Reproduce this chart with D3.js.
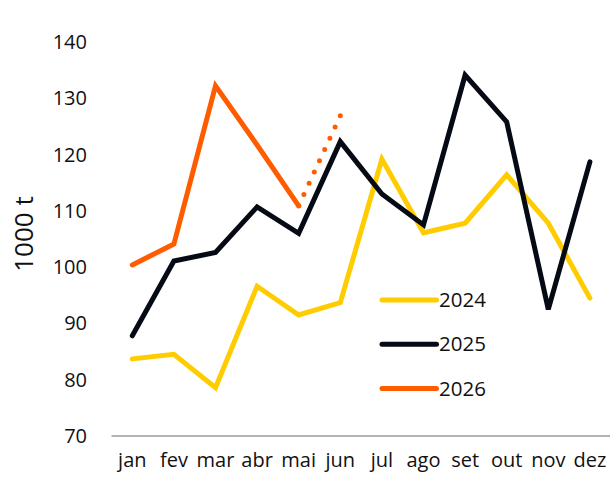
<!DOCTYPE html>
<html>
<head>
<meta charset="utf-8">
<script src="https://cdn.jsdelivr.net/npm/d3@7"></script>
<style>
  body { margin: 0; background: #fff; }
  text { font-family: "Open Sans", "Noto Sans", sans-serif; fill: #111; }
</style>
</head>
<body>
<div id="chart"></div>
<script>
const months = ['jan', 'fev', 'mar', 'abr', 'mai', 'jun', 'jul', 'ago', 'set', 'out', 'nov', 'dez'];
const yTicks = [70, 80, 90, 100, 110, 120, 130, 140];

const v2024 = [83.7, 84.5, 78.6, 96.6, 91.5, 93.7, 119.2, 106.1, 107.8, 116.4, 107.8, 94.5];
const v2025 = [87.8, 101.1, 102.6, 110.7, 106.0, 122.3, 113.0, 107.5, 134.1, 125.8, 92.5, 118.7];
const v2026 = [100.4, 104.1, 132.2, 121.7, 110.9];
// projection for jun, drawn dotted from mai
const proj2026 = [null, null, null, null, 110.9, 126.9];

const seriesNames = ['2024', '2025', '2026'];
const colors = ['#FFCC00', '#050A15', '#FF5C00'];

const width = 610, height = 482;

const svg = d3.select('#chart').append('svg')
    .attr('width', width)
    .attr('height', height);

const x = d3.scalePoint()
    .domain(months)
    .range([111.5, 610.7])
    .padding(0.5);

const y = d3.scaleLinear()
    .domain([70, 140])
    .range([436, 42]);

// y tick labels
svg.append('g')
    .selectAll('text')
    .data(yTicks)
    .enter()
    .append('text')
    .attr('x', 87)
    .attr('y', d => y(d))
    .attr('dy', '0.35em')
    .attr('text-anchor', 'end')
    .style('font-size', '20px')
    .text(d => d);

svg.append('text')
    .attr('transform', 'translate(33,234)rotate(-90)')
    .attr('text-anchor', 'middle')
    .style('font-size', '26px')
    .text('1000 t');

// baseline
svg.append('line')
    .attr('x1', 111.5)
    .attr('x2', 610)
    .attr('y1', y(70))
    .attr('y2', y(70))
    .attr('stroke', '#9a9a9a')
    .attr('stroke-width', 1.5);

// month labels
svg.append('g')
    .selectAll('text')
    .data(months)
    .enter()
    .append('text')
    .attr('x', d => x(d))
    .attr('y', 467)
    .attr('text-anchor', 'middle')
    .style('font-size', '20px')
    .text(d => d);

const line = d3.line()
    .defined(d => d != null)
    .x((d, i) => x(months[i]))
    .y(d => y(d));

svg.append('path')
    .datum(proj2026)
    .attr('fill', 'none')
    .attr('stroke', colors[2])
    .attr('stroke-width', 5)
    .attr('stroke-linecap', 'round')
    .attr('stroke-dasharray', '0 12.4')
    .attr('d', line);

[v2024, v2025, v2026].forEach((vals, i) => {
    svg.append('path')
        .datum(vals)
        .attr('fill', 'none')
        .attr('stroke', colors[i])
        .attr('stroke-width', 5)
        .attr('stroke-linejoin', 'miter')
        .attr('stroke-linecap', 'round')
        .attr('d', line);
});

// legend
const legend = svg.append('g');
seriesNames.forEach((name, i) => {
    const ly = 300 + i * 44.2;
    legend.append('line')
        .attr('x1', 382)
        .attr('x2', 436.5)
        .attr('y1', ly)
        .attr('y2', ly)
        .attr('stroke', colors[i])
        .attr('stroke-width', 5)
        .attr('stroke-linecap', 'round');
    legend.append('text')
        .attr('x', 439)
        .attr('y', ly)
        .attr('dy', '0.35em')
        .style('font-size', '20.5px')
        .text(name);
});
</script>
</body>
</html>
